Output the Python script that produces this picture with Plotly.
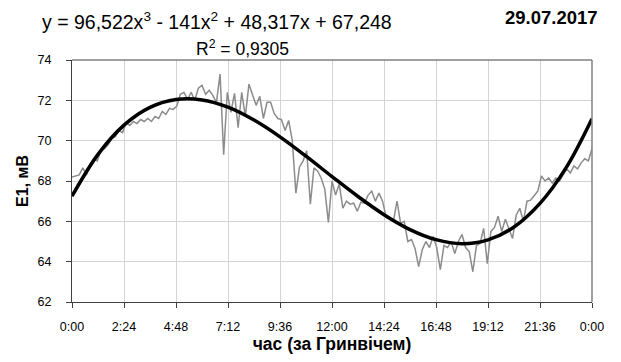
import plotly.graph_objects as go

# Measured E1 values (mV), every 10 minutes from 0:00 to 24:00 (GMT)
e1_values = [
    68.2, 68.25, 68.3, 68.65, 68.3, 68.8, 69.1, 69.0, 69.5, 69.6,
    69.8, 70.1, 70.2, 70.5, 70.4, 70.9, 70.75, 70.95, 70.85, 71.05,
    70.95, 71.1, 70.95, 71.2, 71.1, 71.45, 71.3, 71.6, 71.55, 71.7,
    72.3, 72.4, 72.05, 72.4, 72.0, 72.6, 72.75, 72.3, 72.5, 72.25,
    71.9, 73.3, 69.3, 72.4, 71.4, 72.35, 70.65, 72.4, 71.2, 72.8,
    72.3, 71.75, 72.2, 71.1, 71.9, 71.9, 71.35, 71.1, 71.05, 70.5,
    71.0, 70.0, 67.4, 68.7, 69.0, 69.5, 66.85, 68.65, 68.5, 68.15,
    67.6, 65.95, 68.0, 67.3, 67.85, 66.65, 67.0, 66.85, 66.9, 66.5,
    66.95, 66.9, 67.3, 67.5, 67.0, 67.4, 67.0, 66.2, 66.1, 66.0,
    67.0, 65.9, 66.0, 65.0, 65.1, 64.65, 63.75, 64.6, 65.0, 64.7,
    65.25, 64.7, 63.6, 64.8, 64.7, 65.0, 64.4, 65.0, 65.35, 64.7,
    64.5, 63.5, 64.8, 64.9, 65.65, 63.9, 65.5, 65.7, 66.25, 65.5,
    66.1, 65.6, 65.15, 66.3, 66.65, 66.0, 67.0, 67.05, 67.3, 67.5,
    68.25, 68.0, 68.15, 67.9, 68.15, 68.0, 68.3, 68.6, 68.4, 68.75,
    68.6, 68.9, 69.1, 69.0, 69.6,
]
e1_minutes = [10 * i for i in range(len(e1_values))]

# Polynomial trend line values read at every 72 minutes (0.05 day)
trend_minutes = [0, 72, 144, 216, 288, 360, 432, 504, 576, 648, 720,
                 792, 864, 936, 1008, 1080, 1152, 1224, 1296, 1368, 1440]
trend_values = [67.25, 69.32, 70.77, 71.65, 72.04, 72.02, 71.66, 71.02, 70.19, 69.23, 68.22,
                67.23, 66.33, 65.59, 65.09, 64.89, 65.08, 65.72, 66.89, 68.65, 71.09]

x_tick_minutes = [0, 144, 288, 432, 576, 720, 864, 1008, 1152, 1296, 1440]
x_tick_labels = ["0:00", "2:24", "4:48", "7:12", "9:36", "12:00", "14:24", "16:48", "19:12", "21:36", "0:00"]
y_ticks = [62, 64, 66, 68, 70, 72, 74]

FONT = "Liberation Sans, Arial, sans-serif"

fig = go.Figure()
fig.add_trace(go.Scatter(x=e1_minutes, y=e1_values, mode="lines",
                         line=dict(color="#8c8c8c", width=1.5), hoverinfo="skip"))
fig.add_trace(go.Scatter(x=trend_minutes, y=trend_values, mode="lines",
                         line=dict(color="#000000", width=3.5, shape="spline"), hoverinfo="skip"))

# the page adds an 8px body margin, so the figure is sized 8px smaller
fig.update_layout(
    width=613, height=354,
    margin=dict(l=64, r=29, t=52, b=60),
    paper_bgcolor="white", plot_bgcolor="white",
    showlegend=False,
    font=dict(family=FONT, size=12, color="#000000"),
    xaxis=dict(range=[0, 1440], tickvals=x_tick_minutes, ticktext=x_tick_labels,
               showgrid=True, gridcolor="#d4d4d4", gridwidth=1,
               showline=True, linecolor="#404040", linewidth=1,
               ticks="outside", ticklen=5, tickcolor="#404040",
               ticklabelstandoff=8,
               zeroline=False, tickfont=dict(size=12.5),
               title=dict(text="<b>час (за Гринвічем)</b>", font=dict(size=17.5), standoff=4)),
    yaxis=dict(range=[62, 74], tickvals=y_ticks,
               showgrid=True, gridcolor="#d4d4d4", gridwidth=1,
               showline=True, linecolor="#404040", linewidth=1,
               ticks="outside", ticklen=5, tickcolor="#404040",
               ticklabelstandoff=12,
               zeroline=False, tickfont=dict(size=12.5),
               title=dict(text="<b>E1, мВ</b>", font=dict(size=16), standoff=4)),
    shapes=[
        dict(type="line", xref="paper", yref="paper", x0=0, x1=1, y0=1, y1=1,
             line=dict(color="#808080", width=1.5)),
        dict(type="line", xref="paper", yref="paper", x0=1, x1=1, y0=0, y1=1,
             line=dict(color="#808080", width=1.5)),
    ],
    annotations=[
        dict(text="y = 96,522x<sup>3</sup> - 141x<sup>2</sup> + 48,317x + 67,248",
             xref="paper", yref="paper", x=-0.0615, y=1.163, xanchor="left", yanchor="middle",
             showarrow=False, font=dict(size=19.5)),
        dict(text="R<sup>2</sup> = 0,9305",
             xref="paper", yref="paper", x=0.327, y=1.0496, xanchor="center", yanchor="middle",
             showarrow=False, font=dict(size=17.5)),
        dict(text="<b>29.07.2017</b>",
             xref="paper", yref="paper", x=1.0154, y=1.1736, xanchor="right", yanchor="middle",
             showarrow=False, font=dict(size=18.5)),
    ],
)

fig.write_html("out.html")
